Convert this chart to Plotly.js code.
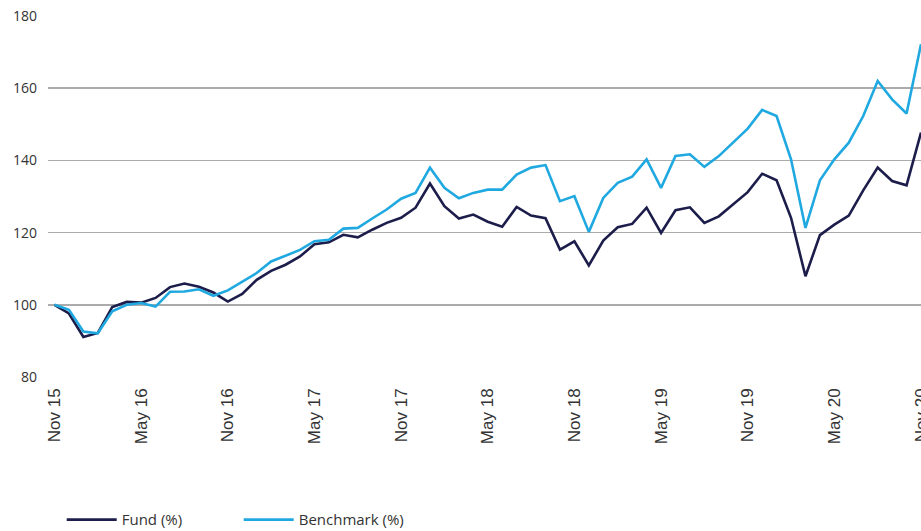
<!DOCTYPE html>
<html>
<head>
<meta charset="utf-8">
<script src="https://cdn.plot.ly/plotly-3.0.1.min.js"></script>
<style>html,body{margin:0;padding:0;background:#fff;}#chart{width:921px;height:531px;}</style>
</head>
<body>
<div id="chart"></div>
<script>
const months = [
 "Nov 15","Dec 15","Jan 16","Feb 16","Mar 16","Apr 16","May 16","Jun 16","Jul 16","Aug 16","Sep 16","Oct 16",
 "Nov 16","Dec 16","Jan 17","Feb 17","Mar 17","Apr 17","May 17","Jun 17","Jul 17","Aug 17","Sep 17","Oct 17",
 "Nov 17","Dec 17","Jan 18","Feb 18","Mar 18","Apr 18","May 18","Jun 18","Jul 18","Aug 18","Sep 18","Oct 18",
 "Nov 18","Dec 18","Jan 19","Feb 19","Mar 19","Apr 19","May 19","Jun 19","Jul 19","Aug 19","Sep 19","Oct 19",
 "Nov 19","Dec 19","Jan 20","Feb 20","Mar 20","Apr 20","May 20","Jun 20","Jul 20","Aug 20","Sep 20","Oct 20",
 "Nov 20"
];
const fund = [
 100, 97.6, 91.1, 92.2, 99.4, 100.8, 100.6, 101.9, 104.9, 105.9, 105, 103.4,
 100.9, 103, 106.9, 109.4, 111.1, 113.4, 116.8, 117.3, 119.4, 118.7, 120.8, 122.7,
 124.1, 126.9, 133.6, 127.3, 123.9, 125, 123, 121.6, 127.1, 124.7, 124, 115.3,
 117.6, 110.9, 117.8, 121.5, 122.4, 126.9, 119.9, 126.2, 127, 122.7, 124.5, 127.8,
 131.2, 136.3, 134.5, 124.1, 107.9, 119.3, 122.2, 124.7, 131.7, 138, 134.3, 133.1,
 147.7
];
const benchmark = [
 100, 98.6, 92.6, 92.1, 98.2, 100, 100.5, 99.5, 103.6, 103.7, 104.3, 102.5,
 104, 106.5, 108.8, 112, 113.5, 115.2, 117.6, 118, 121.1, 121.3, 123.9, 126.4,
 129.4, 131, 138, 132.4, 129.5, 131, 131.9, 131.9, 136.1, 138, 138.7, 128.7,
 130.1, 120.2, 129.6, 133.8, 135.5, 140.3, 132.4, 141.2, 141.7, 138.2, 141.2, 145.1,
 148.8, 154, 152.3, 140.3, 121.3, 134.5, 140.3, 144.9, 152.3, 162, 156.9, 153,
 172.2
];
const tickLabels = ["Nov 15","May 16","Nov 16","May 17","Nov 17","May 18","Nov 18","May 19","Nov 19","May 20","Nov 20"];
const yTicks = [80, 100, 120, 140, 160, 180];
const seriesNames = ["Fund (%)", "Benchmark (%)"];

const traces = [
  {x: months, y: fund, name: seriesNames[0], type: "scatter", mode: "lines",
   line: {color: "#1c1d4a", width: 2.6}},
  {x: months, y: benchmark, name: seriesNames[1], type: "scatter", mode: "lines",
   line: {color: "#20a9e0", width: 2.6}}
];

const layout = {
  width: 921, height: 531,
  margin: {l: 48, r: 0, t: 16, b: 154},
  paper_bgcolor: "#fff", plot_bgcolor: "#fff",
  font: {family: "Open Sans, sans-serif", color: "#333", size: 14},
  showlegend: true,
  legend: {orientation: "h", xref: "container", yref: "container",
    x: 0.067, xanchor: "left", y: 0.021, yanchor: "middle",
    font: {family: "Open Sans, sans-serif", size: 15, color: "#333"},
    itemwidth: 50, entrywidth: 112, entrywidthmode: "pixels", traceorder: "normal"},
  xaxis: {type: "category", categoryorder: "array", categoryarray: months,
    range: [-0.45, 60], tickmode: "array", tickvals: tickLabels, ticktext: tickLabels,
    tickangle: -90, showgrid: false, zeroline: false, showline: false, ticks: "",
    ticklabelstandoff: 7,
    tickfont: {family: "Liberation Sans, Arial, sans-serif", size: 17, color: "#333"},
    automargin: false},
  yaxis: {range: [80, 180], tickmode: "array", tickvals: yTicks, showgrid: true,
    gridcolor: "#ababab", gridwidth: 1.5, zeroline: false, showline: false, ticks: "",
    ticklabelstandoff: 10,
    tickfont: {family: "Open Sans, sans-serif", size: 14, color: "#333"}, automargin: false}
};

Plotly.newPlot("chart", traces, layout, {displayModeBar: false, staticPlot: true});
</script>
</body>
</html>
